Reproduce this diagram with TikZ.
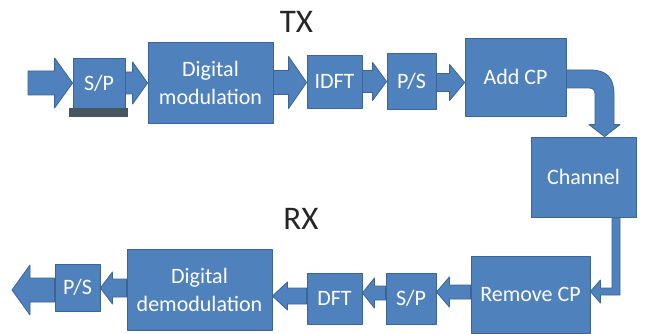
\documentclass[tikz,border=0pt]{standalone}
\usepackage{fontspec}
\setmainfont{Carlito}
\usetikzlibrary{calc}
\definecolor{boxblue}{HTML}{4F81BD}
\definecolor{boxedge}{HTML}{3C6596}
\definecolor{barcol}{HTML}{46555E}
\tikzset{
 blk/.style={fill=boxblue, draw=boxedge, line width=0.8pt, line join=round},
 box/.style={blk, rectangle, inner sep=0pt, text=white, font=\fontsize{22}{28}\selectfont, align=center},
 lbl/.style={font=\fontsize{33}{36}\selectfont, text=black!85}
}
% #1 from, #2 to, #3 shaft half, #4 head half, #5 signed head length, #6 y offset (px, down)
\newcommand\barrow[6]{\filldraw[blk] let \p1=($(#1)+(0,#6)$), \p2=(#2) in
 (\x1,{\y1+#3pt}) -- ({\x2-(#5pt)},{\y1+#3pt}) -- ({\x2-(#5pt)},{\y1+#4pt}) -- (\x2,\y1) -- ({\x2-(#5pt)},{\y1-#4pt}) -- ({\x2-(#5pt)},{\y1-#3pt}) -- (\x1,{\y1-#3pt}) -- cycle;}
\begin{document}
\begin{tikzpicture}[x=1pt,y=-1pt]
\useasboundingbox (0,0) rectangle (647,334);
% labels
\node[lbl] (tx) at (296.5,21.5) {TX};
\node[lbl] (rx) at (301,219) {RX};
% TX row
\node[box, minimum width=52pt, minimum height=50pt] (sp1) at (99,83) {S/P};
\fill[barcol] ($(sp1.south west)+(-4,0)$) rectangle ($(sp1.south east)+(3,9)$);
\node[box, minimum width=125pt, minimum height=81pt] (dmod) at (210.5,82.5) {Digital\\modulation};
\node[box, minimum width=55pt, minimum height=53pt] (idft) at (334.5,81.5) {IDFT};
\node[box, minimum width=49pt, minimum height=56pt] (ps1) at (411.5,81) {P/S};
\node[box, minimum width=101pt, minimum height=78pt] (addcp) at (515.5,77) {Add CP};
\node[box, minimum width=105pt, minimum height=80pt] (channel) at (583.5,177) {Channel};
% RX row
\node[box, minimum width=119pt, minimum height=77pt] (rmcp) at (530.5,294.5) {Remove CP};
\node[box, minimum width=50pt, minimum height=51pt] (sp2) at (411,298.5) {S/P};
\node[box, minimum width=55pt, minimum height=51pt] (dft) at (334.5,298.5) {DFT};
\node[box, minimum width=145pt, minimum height=81pt] (ddmod) at (199.5,289.5) {Digital\\demodulation};
\node[box, minimum width=45pt, minimum height=47pt] (ps2) at (77.5,287.5) {P/S};
\coordinate (in) at (28,83);
\coordinate (out) at (12,292);
% TX arrows
\barrow{in}{sp1.west}{12}{25}{18}{0}
\barrow{sp1.east}{dmod.west}{11}{21}{15}{0}
\barrow{dmod.east}{idft.west}{12}{26}{18}{0}
\barrow{idft.east}{ps1.west}{11}{19}{14}{0}
\barrow{ps1.east}{addcp.west}{9}{18}{15}{1.5}
% Add CP -> Channel (bent arrow)
\filldraw[blk] let \p1=(addcp.east), \p2=(channel.north) in
 (\x1,{\y1+7pt}) -- ({\x2+7pt},{\y1+7pt}) .. controls ({\x2+23pt},{\y1+7pt}) and ({\x2+30.5pt},{\y1-1pt}) .. ({\x2+30.5pt},{\y1-17pt})
 -- ({\x2+30.5pt},{\y2+12pt}) -- ({\x2+36.5pt},{\y2+12pt}) -- ({\x2+21pt},\y2) -- ({\x2+5.5pt},{\y2+12pt}) -- ({\x2+11.5pt},{\y2+12pt})
 -- ({\x2+11.5pt},{\y1-17pt}) .. controls ({\x2+11.5pt},{\y1-13pt}) and ({\x2+9.5pt},{\y1-11pt}) .. ({\x2+5.5pt},{\y1-11pt})
 -- (\x1,{\y1-11pt}) -- cycle;
% Channel -> Remove CP
\filldraw[blk] let \p1=(channel.south), \p2=(rmcp.east) in
 ({\x1+28.5pt},\y1) -- ({\x1+36.5pt},\y1) -- ({\x1+36.5pt},{\y2-0.5pt}) -- ({\x2+10pt},{\y2-0.5pt}) -- ({\x2+10pt},{\y2-8.5pt})
 -- (\x2,{\y2+3pt}) -- ({\x2+10pt},{\y2+14.5pt}) -- ({\x2+10pt},{\y2+6.5pt}) -- ({\x1+28.5pt},{\y2+6.5pt}) -- cycle;
% RX arrows
\barrow{rmcp.west}{sp2.east}{7}{15}{-13}{-2.5}
\barrow{sp2.west}{dft.east}{7}{15}{-12}{-5.5}
\barrow{dft.west}{ddmod.east}{8}{14}{-15}{-2.5}
\barrow{ddmod.west}{ps2.east}{9}{16}{-12}{-1.5}
\barrow{ps2.west}{out}{12}{25}{-18}{2.5}
\end{tikzpicture}
\end{document}
